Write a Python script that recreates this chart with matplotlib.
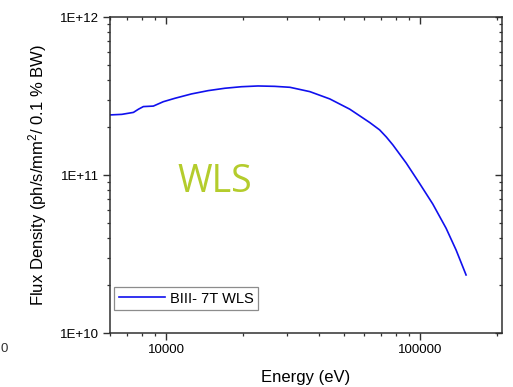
import matplotlib
matplotlib.use("Agg")
import matplotlib.pyplot as plt
from matplotlib.ticker import LogLocator, NullFormatter, FixedLocator

plt.rcParams["font.family"] = ["Liberation Sans", "DejaVu Sans"]
plt.rcParams["mathtext.fontset"] = "custom"
plt.rcParams["mathtext.rm"] = "Liberation Sans"
plt.rcParams["mathtext.default"] = "regular"

# Photon energy (eV) and flux density for the BIII 7T wavelength shifter
energy = [6000, 6680, 7420, 7770, 8120, 8890, 9730, 10820, 12570, 14620,
          17000, 19750, 22970, 26720, 30680, 36760, 44050, 52780, 63230,
          69210, 73550, 78060, 88100, 99380, 112100, 126500, 138500, 151600]
flux = [2.40e11, 2.42e11, 2.49e11, 2.61e11, 2.71e11, 2.73e11, 2.91e11,
        3.06e11, 3.26e11, 3.42e11, 3.54e11, 3.62e11, 3.66e11, 3.64e11,
        3.59e11, 3.37e11, 3.03e11, 2.61e11, 2.15e11, 1.93e11, 1.74e11,
        1.55e11, 1.19e11, 8.86e10, 6.55e10, 4.60e10, 3.35e10, 2.33e10]

series_label = "BIII- 7T WLS"
x_ticks = [10000, 100000]
x_tick_labels = ["10000", "100000"]
y_ticks = [1e10, 1e11, 1e12]
y_tick_labels = ["1E+10", "1E+11", "1E+12"]

W, H = 513, 387
fig = plt.figure(figsize=(W / 100, H / 100), dpi=100)
ax = fig.add_axes([110 / W, 1 - 333 / H, 392 / W, 316 / H])

ax.plot(energy, flux, color="#1010ee", lw=1.2, label=series_label)
ax.set_xscale("log")
ax.set_yscale("log")
ax.set_xlim(6000, 210000)
ax.set_ylim(1e10, 1e12)

spine_color = "#303030"
for s in ax.spines.values():
    s.set_color(spine_color)
    s.set_linewidth(1.1)

ax.xaxis.set_major_locator(FixedLocator(x_ticks))
ax.set_xticklabels(x_tick_labels)
ax.xaxis.set_minor_locator(LogLocator(base=10, subs=range(2, 10)))
ax.xaxis.set_minor_formatter(NullFormatter())
ax.yaxis.set_major_locator(FixedLocator(y_ticks))
ax.set_yticklabels(y_tick_labels)
ax.yaxis.set_minor_locator(LogLocator(base=10, subs=range(2, 10)))
ax.yaxis.set_minor_formatter(NullFormatter())

ax.tick_params(which="major", direction="out", length=5, width=1.0,
               color=spine_color, labelsize=9.5, pad=3)
ax.tick_params(which="minor", direction="out", length=2.5, width=0.9,
               color=spine_color)

# mirrored ticks pointing inward on top and right
for twin, axis in ((ax.twiny(), "x"), (ax.twinx(), "y")):
    if axis == "x":
        twin.set_xscale("log")
        twin.set_xlim(ax.get_xlim())
        twin.xaxis.set_major_locator(FixedLocator(x_ticks))
        twin.xaxis.set_minor_locator(LogLocator(base=10, subs=range(2, 10)))
        twin.xaxis.set_major_formatter(NullFormatter())
        twin.xaxis.set_minor_formatter(NullFormatter())
    else:
        twin.set_yscale("log")
        twin.set_ylim(ax.get_ylim())
        twin.yaxis.set_major_locator(FixedLocator(y_ticks))
        twin.yaxis.set_minor_locator(LogLocator(base=10, subs=range(2, 10)))
        twin.yaxis.set_major_formatter(NullFormatter())
        twin.yaxis.set_minor_formatter(NullFormatter())
    twin.tick_params(which="major", direction="in", length=5, width=1.0,
                     color=spine_color)
    twin.tick_params(which="minor", direction="in", length=2.5, width=0.9,
                     color=spine_color)
    for s in twin.spines.values():
        s.set_visible(False)

ax.set_xlabel("Energy (eV)", fontsize=12, labelpad=10)
ax.set_ylabel("Flux Density (ph/s/mm$^2$/ 0.1 % BW)", fontsize=12, labelpad=8)

leg = ax.legend(loc="lower left", fontsize=10.5, frameon=True, fancybox=False,
                edgecolor="#707070", borderpad=0.3, handlelength=3.2,
                handletextpad=0.3, bbox_to_anchor=(-0.008, 0.05))
leg.get_frame().set_linewidth(0.9)

ax.text(0.172, 0.446, "WLS", transform=ax.transAxes, fontsize=27,
        color="#b4cc2c", family=["Open Sans", "DejaVu Sans"], ha="left",
        va="baseline")

fig.text(0.5 / W, 1 - 352 / H, "0", fontsize=9.5, color="#303030", ha="left")

fig.savefig("out.png", dpi=100)
